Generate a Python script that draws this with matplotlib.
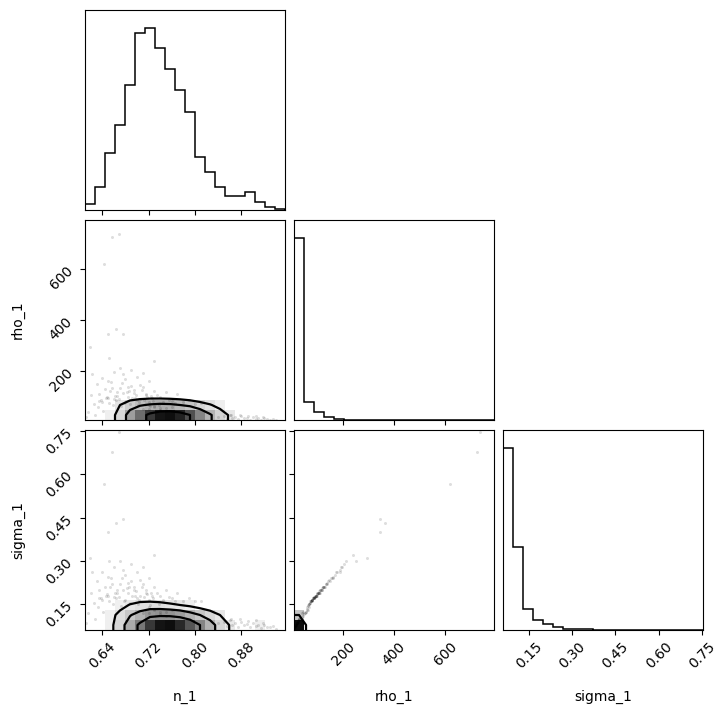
import numpy as np
import matplotlib
matplotlib.use("Agg")
import matplotlib.pyplot as plt

labels = ["n_1", "rho_1", "sigma_1"]
ranges = [(0.610, 0.956), (8.6, 790.0), (0.061, 0.753)]
ticks = [[0.64, 0.72, 0.80, 0.88], [200, 400, 600], [0.15, 0.30, 0.45, 0.60, 0.75]]
ticklabels = [["0.64", "0.72", "0.80", "0.88"], ["200", "400", "600"],
              ["0.15", "0.30", "0.45", "0.60", "0.75"]]

# 1D histograms (20 bins over each range)
hist_n = [6, 23, 57, 85, 125, 177, 182, 162, 141, 120, 98, 53, 38, 23, 14, 14, 18, 8, 3, 1]
hist_rho = [182, 18, 8, 3, 1, 0.5, 0.3, 0.2, 0.1, 0.1, 0, 0, 0, 0, 0.1, 0, 0, 0.1, 0.1, 0]
hist_sigma = [181, 83, 21, 10, 6, 3, 1.2, 1, 0.5, 0.4, 0.3, 0.3, 0.2, 0.2, 0.2, 0.2, 0.1, 0.1, 0.1, 0.1]

# 2D density grids (rows from bottom of y range, 20 columns), remaining rows zero
H_n_rho = [
    [4, 10, 30, 60, 110, 150, 190, 215, 220, 205, 175, 130, 95, 65, 40, 20, 11, 7, 4, 2],
    [3, 8, 25, 45, 70, 85, 95, 100, 98, 90, 78, 62, 48, 32, 12, 4, 2, 1, 0, 0],
    [2, 4, 8, 12, 15, 17, 17, 15, 13, 11, 8, 6, 4, 2, 1, 0, 0, 0, 0, 0],
    [1, 2, 3, 4, 5, 5, 5, 4, 3, 3, 2, 1, 1, 0, 0, 0, 0, 0, 0, 0],
]
H_n_sigma = [
    [5, 12, 30, 60, 100, 140, 190, 215, 220, 200, 170, 130, 95, 62, 38, 18, 10, 30, 3, 1],
    [3, 8, 28, 50, 75, 95, 115, 120, 118, 110, 95, 78, 60, 40, 22, 8, 4, 2, 1, 0],
    [2, 5, 14, 28, 42, 50, 52, 50, 45, 40, 32, 22, 14, 8, 4, 2, 1, 0, 0, 0],
    [1, 3, 6, 10, 14, 16, 16, 14, 12, 10, 8, 5, 3, 2, 1, 0, 0, 0, 0, 0],
]
H_rho_sigma = [
    [700, 60, 5, 1], [250, 40, 6, 1], [30, 18, 5, 0], [6, 8, 4, 0], [2, 4, 3, 0], [1, 1, 2, 0],
]

# scatter samples (n_1, rho_1, sigma_1)
n_s = [0.62, 0.63, 0.635, 0.64, 0.645, 0.65, 0.655, 0.66, 0.665, 0.67, 0.675, 0.68, 0.685, 0.69, 0.695,
       0.70, 0.705, 0.71, 0.715, 0.72, 0.725, 0.73, 0.74, 0.75, 0.76, 0.77, 0.78, 0.79, 0.80, 0.81,
       0.64, 0.66, 0.68, 0.70, 0.72, 0.67, 0.69, 0.71, 0.73, 0.65,
       0.625, 0.638, 0.648, 0.652, 0.662, 0.668, 0.678, 0.683, 0.692, 0.698, 0.703, 0.708, 0.712, 0.718,
       0.728, 0.735, 0.745, 0.755, 0.765, 0.632, 0.642, 0.658, 0.672, 0.688, 0.702, 0.722, 0.738,
       0.615, 0.628, 0.612,
       0.84, 0.85, 0.855, 0.86, 0.865, 0.87, 0.875, 0.88, 0.885, 0.89, 0.895, 0.90, 0.905, 0.91, 0.915,
       0.92, 0.925, 0.93, 0.935, 0.94, 0.862, 0.878, 0.892, 0.905, 0.918,
       0.643, 0.657, 0.668, 0.649, 0.663, 0.675, 0.618, 0.651, 0.622,
       0.72, 0.74, 0.73, 0.75, 0.71, 0.76, 0.72, 0.74, 0.73, 0.75,
       0.634, 0.646, 0.656, 0.666, 0.676, 0.686, 0.696, 0.706, 0.716, 0.726, 0.684, 0.694, 0.664, 0.654, 0.674]
rho_s = [108, 150, 82, 172, 128, 96, 158, 198, 118, 132, 190, 168, 100, 142, 126,
         178, 92, 138, 112, 160, 104, 122, 97, 118, 84, 110, 78, 88, 72, 76,
         80, 92, 78, 86, 80, 212, 205, 192, 238, 160,
         70, 86, 98, 74, 104, 90, 76, 118, 96, 108, 80, 124, 88, 100,
         84, 106, 80, 88, 76, 58, 45, 66, 62, 70, 66, 62, 68,
         40, 30, 20,
         22, 26, 14, 28, 18, 20, 12, 24, 16, 18, 10, 20, 14, 16, 9,
         15, 12, 10, 13, 8, 30, 28, 25, 26, 20,
         620, 722, 735, 346, 365, 345, 294, 250, 190,
         50, 56, 62, 44, 52, 60, 66, 48, 58, 54,
         112, 94, 134, 102, 116, 122, 96, 146, 106, 94, 136, 114, 88, 120, 152]
sigma_s = [0.19, 0.23, 0.17, 0.26, 0.21, 0.18, 0.24, 0.28, 0.20, 0.22, 0.27, 0.25, 0.19, 0.23, 0.21,
           0.26, 0.18, 0.22, 0.20, 0.24, 0.19, 0.21, 0.18, 0.20, 0.17, 0.19, 0.16, 0.17, 0.16, 0.16,
           0.165, 0.175, 0.165, 0.17, 0.165, 0.30, 0.29, 0.28, 0.32, 0.245,
           0.155, 0.17, 0.185, 0.16, 0.19, 0.175, 0.16, 0.205, 0.18, 0.195, 0.165, 0.21, 0.175, 0.185,
           0.17, 0.19, 0.165, 0.175, 0.16, 0.14, 0.125, 0.15, 0.145, 0.155, 0.15, 0.148, 0.152,
           0.12, 0.10, 0.085,
           0.085, 0.09, 0.075, 0.095, 0.08, 0.085, 0.072, 0.09, 0.078, 0.082, 0.07, 0.086, 0.075, 0.08, 0.068,
           0.078, 0.072, 0.07, 0.075, 0.066, 0.1, 0.098, 0.092, 0.095, 0.085,
           0.566, 0.677, 0.745, 0.40, 0.43, 0.446, 0.31, 0.30, 0.26,
           0.12, 0.125, 0.13, 0.11, 0.12, 0.13, 0.14, 0.115, 0.135, 0.125,
           0.20, 0.18, 0.22, 0.19, 0.20, 0.21, 0.18, 0.235, 0.19, 0.18, 0.225, 0.20, 0.17, 0.21, 0.24]

samples = [np.array(n_s), np.array(rho_s), np.array(sigma_s)]
hists = [hist_n, hist_rho, hist_sigma]
grids = {(1, 0): H_n_rho, (2, 0): H_n_sigma, (2, 1): H_rho_sigma}

W, Hh = 728, 714
fig = plt.figure(figsize=(W / 100, Hh / 100), dpi=100)
lefts = [85, 294, 503]
tops = [10, 220, 430]
NB = 20


def full_grid(rows):
    G = np.zeros((NB, NB))
    for i, r in enumerate(rows):
        G[i, :len(r)] = r
    return G


def edges(k):
    return np.linspace(ranges[k][0], ranges[k][1], NB + 1)


for i in range(3):
    for j in range(i + 1):
        ax = fig.add_axes([lefts[j] / W, 1 - (tops[i] + 200) / Hh, 200 / W, 200 / Hh])
        if i == j:
            e = edges(i)
            ax.stairs(hists[i], e, color="k", lw=1.1)
            ax.set_xlim(ranges[i])
            ax.set_ylim(0, 1.1 * max(hists[i]))
            ax.set_yticks([])
        else:
            xs, ys = samples[j], samples[i]
            ax.plot(xs, ys, "o", color="k", ms=2.2, alpha=0.13, mew=0)
            G = full_grid(grids[(i, j)])
            ex, ey = edges(j), edges(i)
            flat = np.sort(G.ravel())[::-1]
            cs = np.cumsum(flat) / flat.sum()
            fr = 1 - np.exp(-0.5 * np.array([0.5, 1, 1.5, 2]) ** 2)
            V = np.sort([flat[max(np.searchsorted(cs, f) - 1, 0)] for f in fr])
            V = np.unique(V)
            cx = 0.5 * (ex[1:] + ex[:-1]); cy = 0.5 * (ey[1:] + ey[:-1])
            dx, dy = ex[1] - ex[0], ey[1] - ey[0]
            px = np.concatenate([[cx[0] - dx], cx, [cx[-1] + dx]])
            py = np.concatenate([[cy[0] - dy], cy, [cy[-1] + dy]])
            P = np.zeros((NB + 2, NB + 2)); P[1:-1, 1:-1] = G
            P[0, 1:-1] = G[0]  # extend below the axis
            if j == 1:
                P[1:-1, 0] = G[:, 0]
                P[0, 0] = G[0, 0]
            ax.contourf(px, py, P, levels=[V[0], P.max() * 10], colors="white")
            M = np.ma.masked_less(G, V[0] * 0.6)
            ax.pcolormesh(ex, ey, M, cmap="Greys", vmin=0, vmax=G.max() * 1.05)
            ax.contour(px, py, P, levels=V[:3], colors="k", linewidths=1.6)
            ax.set_xlim(ranges[j]); ax.set_ylim(ranges[i])
            ax.set_yticks(ticks[i])
            if j == 0:
                ax.set_yticklabels(ticklabels[i], rotation=45)
                ax.set_ylabel(labels[i], fontsize=10)
                ax.yaxis.set_label_coords(-0.3, 0.5)
            else:
                ax.set_yticklabels([])
        ax.set_xticks(ticks[j])
        if i == 2:
            ax.set_xticklabels(ticklabels[j], rotation=45)
            ax.set_xlabel(labels[j], fontsize=10)
            ax.xaxis.set_label_coords(0.5, -0.3)
        else:
            ax.set_xticklabels([])

fig.savefig("out.png", dpi=100)
